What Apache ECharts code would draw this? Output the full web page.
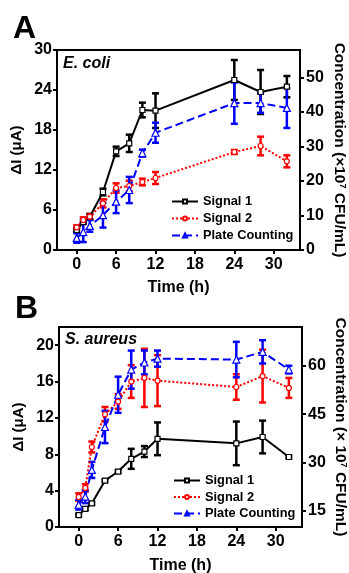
<!DOCTYPE html>
<html>
<head>
<meta charset="utf-8">
<script src="https://cdn.jsdelivr.net/npm/echarts@6/dist/echarts.min.js"></script>
<style>
html,body{margin:0;padding:0;background:#fff;}
#chart{width:349px;height:573px;}
</style>
</head>
<body>
<div id="chart"></div>
<script>
var timeA = [0, 1, 2, 4, 6, 8, 10, 12, 24, 28, 32];
var sig1A = [3.0, 4.2, 5.0, 8.7, 14.8, 16.0, 21.0, 20.9, 25.5, 23.7, 24.5];
var sig1AErr = [0.3, 0.3, 0.4, 0.5, 0.7, 1.3, 1.1, 2.6, 3.0, 3.3, 1.6];
var sig2A = [3.4, 4.5, 5.0, 7.0, 9.3, 9.6, 10.2, 10.8, 14.7, 15.6, 13.3];
var sig2AErr = [0.3, 0.4, 0.4, 0.6, 0.7, 0.8, 0.5, 0.9, 0.3, 1.4, 0.9];
var plateA = [3.5, 5.2, 7.0, 10.1, 14.0, 17.4, 28.1, 34.0, 42.6, 42.6, 41.2];
var plateAErr = [1.4, 2.9, 1.7, 3.6, 3.3, 3.8, 1.0, 2.9, 6.0, 2.8, 5.8];

var timeB = [0, 1, 2, 4, 6, 8, 10, 12, 24, 28, 32];
var sig1B = [1.3, 2.0, 2.6, 5.1, 6.1, 7.5, 8.3, 9.7, 9.2, 9.9, 7.7];
var sig1BErr = [0.15, 0.15, 0.15, 0.15, 0.15, 1.1, 0.6, 1.8, 2.4, 1.8, 0.15];
var sig2B = [3.3, 4.3, 8.8, 12.4, 13.8, 16.0, 16.4, 16.1, 15.4, 16.6, 15.3];
var sig2BErr = [0.4, 0.4, 0.6, 0.8, 0.8, 1.8, 3.2, 2.8, 1.4, 2.9, 1.1];
var plateB = [16.9, 19.4, 27.7, 41.0, 51.0, 58.8, 61.0, 62.2, 61.9, 64.3, 58.8];
var plateBErr = [1.5, 2.0, 2.5, 5.0, 5.6, 5.9, 3.7, 2.5, 5.5, 3.6, 1.2];

var xTicks = [0, 6, 12, 18, 24, 30];
var leftTicksA = [0, 6, 12, 18, 24, 30];
var rightTicksA = [0, 10, 20, 30, 40, 50];
var leftTicksB = [0, 4, 8, 12, 16, 20];
var rightTicksB = [15, 30, 45, 60];
var names = ['Signal 1', 'Signal 2', 'Plate Counting'];

var FONT = 'Liberation Sans';
var myChart = echarts.init(document.getElementById('chart'));

function pairs(t, v) {
  return t.map(function (x, i) { return [x, v[i]]; });
}
function triples(t, v, e) {
  return t.map(function (x, i) { return [x, v[i], e[i]]; });
}

function errSeries(t, v, e, color, xi, yi) {
  return {
    type: 'custom',
    xAxisIndex: xi,
    yAxisIndex: yi,
    z: 3,
    silent: true,
    data: triples(t, v, e),
    renderItem: function (params, api) {
      var x = api.value(0), y = api.value(1), er = api.value(2);
      var hi = api.coord([x, y + er]);
      var lo = api.coord([x, y - er]);
      var st = { stroke: color, lineWidth: 2.5 };
      return {
        type: 'group',
        children: [
          { type: 'line', shape: { x1: hi[0], y1: hi[1], x2: lo[0], y2: lo[1] }, style: st },
          { type: 'line', shape: { x1: hi[0] - 3.5, y1: hi[1], x2: hi[0] + 3.5, y2: hi[1] }, style: st },
          { type: 'line', shape: { x1: lo[0] - 3.5, y1: lo[1], x2: lo[0] + 3.5, y2: lo[1] }, style: st }
        ]
      };
    }
  };
}

function lineSeries(name, t, v, color, type, symbol, xi, yi) {
  return {
    name: name,
    type: 'line',
    xAxisIndex: xi,
    yAxisIndex: yi,
    z: 4,
    data: pairs(t, v),
    symbol: symbol,
    symbolSize: symbol === 'triangle' ? 7 : 5,
    itemStyle: { color: '#fff', borderColor: color, borderWidth: 1.2 },
    lineStyle: { color: color, width: 2, type: type }
  };
}

function xAx(gi, nm, gap) {
  return {
    type: 'value', gridIndex: gi, min: -3, max: 34,
    name: nm, nameLocation: 'middle', nameGap: gap,
    nameTextStyle: { fontFamily: FONT, fontWeight: 'bold', fontSize: 16, color: '#000' },
    axisLine: { onZero: false, lineStyle: { color: '#000', width: 2 } },
    axisTick: { show: true, length: 4, lineStyle: { width: 2 }, customValues: xTicks },
    axisLabel: { fontFamily: FONT, fontWeight: 'bold', fontSize: 16, color: '#000', margin: 7, customValues: xTicks },
    splitLine: { show: false }
  };
}

function yAx(gi, pos, min, max, ticks, nm, rot, gap, nameSize) {
  return {
    type: 'value', gridIndex: gi, position: pos, min: min, max: max,
    name: nm, nameLocation: 'middle', nameGap: gap, nameRotate: rot,
    nameMoveOverlap: false,
    nameTextStyle: {
      fontFamily: FONT, fontWeight: 'bold', fontSize: nameSize, color: '#000', lineHeight: 16,
      rich: { sup: { fontFamily: FONT, fontWeight: 'bold', fontSize: 9, color: '#000', lineHeight: 16, verticalAlign: 'top' } }
    },
    axisLine: { show: true, onZero: false, lineStyle: { color: '#000', width: 2 } },
    axisTick: { show: true, length: 4, lineStyle: { width: 2 }, customValues: ticks },
    axisLabel: { fontFamily: FONT, fontWeight: 'bold', fontSize: 16, color: '#000', margin: pos === 'left' ? 5 : 6, customValues: ticks },
    splitLine: { show: false }
  };
}

var legendText = { fontFamily: FONT, fontWeight: 'bold', fontSize: 12.8, color: '#000', lineHeight: 13 };

option = {
  backgroundColor: '#fff',
  animation: false,
  title: [
    { text: 'A', left: 8, top: 8, textStyle: { fontFamily: FONT, fontWeight: 'bold', fontSize: 32, color: '#000' } },
    { text: 'B', left: 10, top: 288, textStyle: { fontFamily: FONT, fontWeight: 'bold', fontSize: 32, color: '#000' } },
    { text: 'E. coli', left: 58, top: 51, textStyle: { fontFamily: FONT, fontWeight: 'bold', fontStyle: 'italic', fontSize: 16, color: '#000' } },
    { text: 'S. aureus', left: 60, top: 327, textStyle: { fontFamily: FONT, fontWeight: 'bold', fontStyle: 'italic', fontSize: 16, color: '#000' } }
  ],
  grid: [
    { left: 57, top: 50, width: 243, height: 200, containLabel: false, outerBoundsMode: 'none', show: true, borderColor: '#000', borderWidth: 2, backgroundColor: 'transparent' },
    { left: 59, top: 327, width: 243, height: 200, containLabel: false, outerBoundsMode: 'none', show: true, borderColor: '#000', borderWidth: 2, backgroundColor: 'transparent' }
  ],
  legend: [
    {
      orient: 'vertical', left: 166, top: 190, itemWidth: 26, itemHeight: 5, itemGap: 4,
      data: names, textStyle: legendText, selectedMode: false
    },
    {
      orient: 'vertical', left: 168, top: 469, itemWidth: 26, itemHeight: 5, itemGap: 3.5,
      data: names, textStyle: legendText, selectedMode: false
    }
  ],
  xAxis: [xAx(0, 'Time (h)', 30), xAx(1, 'Time (h)', 31)],
  yAxis: [
    yAx(0, 'left', 0, 30, leftTicksA, 'ΔI (μA)', 90, 32, 15),
    yAx(0, 'right', 0, 58, rightTicksA, 'Concentration (×10{sup|7} CFU/mL)', -90, 31, 15.5),
    yAx(1, 'left', 0, 22, leftTicksB, 'ΔI (μA)', 90, 32, 15),
    yAx(1, 'right', 10, 72, rightTicksB, 'Concentration (× 10{sup|7} CFU/mL)', -90, 30, 15.5)
  ],
  series: [
    errSeries(timeA, sig1A, sig1AErr, '#000', 0, 0),
    errSeries(timeA, sig2A, sig2AErr, '#ff0000', 0, 0),
    errSeries(timeA, plateA, plateAErr, '#0000ff', 0, 1),
    lineSeries('Signal 1', timeA, sig1A, '#000', 'solid', 'rect', 0, 0),
    lineSeries('Signal 2', timeA, sig2A, '#ff0000', 'dotted', 'circle', 0, 0),
    lineSeries('Plate Counting', timeA, plateA, '#0000ff', 'dashed', 'triangle', 0, 1),
    errSeries(timeB, sig1B, sig1BErr, '#000', 1, 2),
    errSeries(timeB, sig2B, sig2BErr, '#ff0000', 1, 2),
    errSeries(timeB, plateB, plateBErr, '#0000ff', 1, 3),
    lineSeries('Signal 1', timeB, sig1B, '#000', 'solid', 'rect', 1, 2),
    lineSeries('Signal 2', timeB, sig2B, '#ff0000', 'dotted', 'circle', 1, 2),
    lineSeries('Plate Counting', timeB, plateB, '#0000ff', 'dashed', 'triangle', 1, 3)
  ]
};

myChart.setOption(option, true);
</script>
</body>
</html>
